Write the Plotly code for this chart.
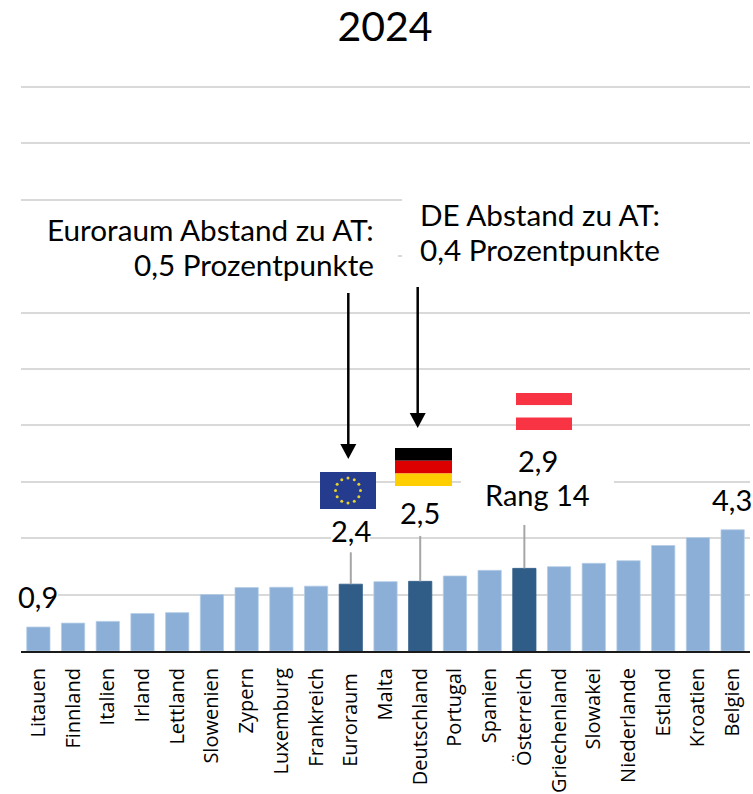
import math
import plotly.graph_objects as go

W, H = 753, 794
L, R, T, B = 21, 3, 84, 143

categories = ["Litauen", "Finnland", "Italien", "Irland", "Lettland", "Slowenien", "Zypern",
              "Luxemburg", "Frankreich", "Euroraum", "Malta", "Deutschland", "Portugal", "Spanien",
              "Österreich", "Griechenland", "Slowakei", "Niederlande", "Estland", "Kroatien", "Belgien"]
values = [0.85, 0.99, 1.05, 1.33, 1.36, 2.0, 2.25, 2.26, 2.3, 2.37, 2.46, 2.47, 2.66, 2.86,
          2.93, 2.99, 3.11, 3.2, 3.74, 4.02, 4.3]
highlighted = ["Euroraum", "Deutschland", "Österreich"]
y_ticks = [0, 2, 4, 6, 8, 10, 12, 14, 16, 18, 20]
leader_tops = {"Euroraum": 3.5, "Deutschland": 4.08, "Österreich": 4.47}

LIGHT, DARK = "#8BAFD6", "#305D88"
TEXT_FONT = "Lato"
TICK_FONT = "Open Sans"
Y_MAX = 20.106


def px(x):
    return (x - L) / (W - L - R)


def py(y):
    return (H - B - y) / (H - B - T)


def rect(x0, y0, x1, y1, color):
    return dict(type="rect", xref="paper", yref="paper", x0=px(x0), x1=px(x1), y0=py(y0), y1=py(y1),
                fillcolor=color, line_width=0, layer="above")


def note(text, x, y, size, xanchor="center", align="center"):
    return dict(text=text, xref="paper", yref="paper", x=px(x), y=py(y), xanchor=xanchor, yanchor="middle",
                align=align, showarrow=False, font=dict(family=TEXT_FONT, size=size, color="#000000"))


shapes = [
    rect(0, 205, 398, 288, "#FFFFFF"),
    rect(402, 190, 751, 288, "#FFFFFF"),
    rect(461, 470, 614, 495, "#FFFFFF"),
    rect(331, 520, 370, 545, "#FFFFFF"),
    rect(15, 585, 58, 610, "#FFFFFF"),
]

# leader lines from the bars to their value labels
for name, top in leader_tops.items():
    v = values[categories.index(name)]
    shapes.append(dict(type="line", xref="x", yref="y", x0=name, x1=name, y0=v, y1=top,
                       line=dict(color="#A6A6A6", width=2), layer="above"))

# arrows
for x, y0, y1 in [(348.3, 293, 446), (417.7, 287, 415)]:
    shapes.append(dict(type="line", xref="paper", yref="paper", x0=px(x), x1=px(x), y0=py(y0), y1=py(y1),
                       line=dict(color="#000000", width=2.5), layer="above"))
for x, tip in [(348.3, 459), (417.7, 428)]:
    path = f"M {px(x - 8)} {py(tip - 15)} L {px(x + 8)} {py(tip - 15)} L {px(x)} {py(tip)} Z"
    shapes.append(dict(type="path", xref="paper", yref="paper", path=path, fillcolor="#000000",
                       line_width=0, layer="above"))

# flags
shapes += [
    rect(320, 472, 376, 509, "#253B8E"),
    rect(395, 448, 452, 460.7, "#000000"),
    rect(395, 460.7, 452, 473.4, "#DD0000"),
    rect(395, 473.4, 452, 486, "#FFCE00"),
    rect(516, 393, 572, 405.3, "#F73344"),
    rect(516, 405.3, 572, 417.5, "#FFFFFF"),
    rect(516, 417.5, 572, 430, "#F73344"),
]
for i in range(12):
    a = math.radians(i * 30)
    cx, cy = 348 + 12.5 * math.cos(a), 490.5 + 12.5 * math.sin(a)
    shapes.append(dict(type="circle", xref="paper", yref="paper", x0=px(cx - 1.5), x1=px(cx + 1.5),
                       y0=py(cy - 1.5), y1=py(cy + 1.5), fillcolor="#E6D22E", line_width=0, layer="above"))

annotations = [
    note("Euroraum Abstand zu AT:", 376, 229, 29.7, "right", "right"),
    note("0,5 Prozentpunkte", 376, 264, 29.7, "right", "right"),
    note("DE Abstand zu AT:", 418, 214, 29.7, "left", "left"),
    note("0,4 Prozentpunkte", 418, 249, 29.7, "left", "left"),
    note("2,4", 351, 530, 29),
    note("2,5", 420, 512, 29),
    note("2,9", 538, 460, 29),
    note("Rang 14", 537, 494, 29),
    note("4,3", 732, 499, 29),
    note("0,9", 38, 596, 29),
]

tick_text = [c + "\u00a0" if c == "Euroraum" else c for c in categories]

fig = go.Figure(go.Bar(
    x=categories, y=values,
    marker=dict(color=[DARK if c in highlighted else LIGHT for c in categories],
                line=dict(color=[DARK if c in highlighted else "#B4CCE6" for c in categories], width=0.75)),
    hoverinfo="x+y",
))
fig.update_layout(
    width=W, height=H, autosize=False, showlegend=False,
    paper_bgcolor="#FFFFFF", plot_bgcolor="#FFFFFF",
    margin=dict(l=L, r=R, t=T, b=B, pad=0), bargap=0.33,
    title=dict(text="2024", x=385 / W, xanchor="center", y=1 - 27 / H, yanchor="middle",
               xref="container", yref="container",
               font=dict(family=TEXT_FONT, size=41, color="#000000")),
    shapes=shapes, annotations=annotations,
)
fig.update_xaxes(type="category", tickmode="array", tickvals=categories, ticktext=tick_text, tickangle=-90,
                 ticks="", ticklen=0, showgrid=False, showline=True, linecolor="#1A1A1A", linewidth=2,
                 tickfont=dict(family=TICK_FONT, size=20, color="#000000"), automargin=False,
                 ticklabelstandoff=7, range=[-0.5, 20.5])
fig.update_yaxes(range=[0, Y_MAX], tickmode="array", tickvals=y_ticks, showticklabels=False, ticks="",
                 showgrid=True, gridcolor="#D9D9D9", gridwidth=2, zeroline=False, automargin=False)
fig.write_html("out.html", config={"displayModeBar": False},
               post_script="document.body.style.margin='0';document.documentElement.style.overflow='hidden';")
